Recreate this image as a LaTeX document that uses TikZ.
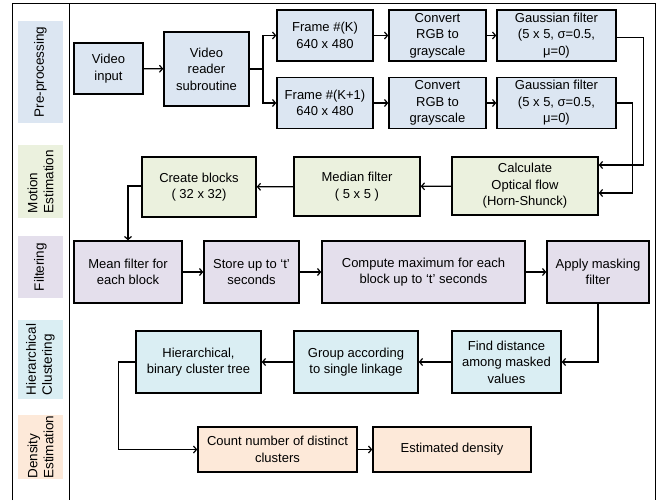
\documentclass[tikz,border=0pt]{standalone}
\usepackage{fontspec}
\setmainfont{Liberation Sans}
\usetikzlibrary{arrows.meta}
\definecolor{cblue}{RGB}{220,230,242}
\definecolor{cgreen}{RGB}{235,241,222}
\definecolor{cpurple}{RGB}{228,223,236}
\definecolor{ccyan}{RGB}{218,238,243}
\definecolor{cpeach}{RGB}{253,233,217}
\tikzset{
  box/.style={draw=black, line width=1.5pt, align=center, inner sep=1pt,
    font=\fontsize{13}{16.5}\selectfont},
  lbl/.style={rotate=90, align=left, inner sep=0pt,
    font=\fontsize{13.5}{16}\selectfont},
  conn/.style={line width=1.2pt, -{Straight Barb[length=3pt,width=7pt]}},
  plain/.style={line width=1.2pt},
  frame/.style={line width=1pt}
}
\begin{document}
\begin{tikzpicture}[x=1pt,y=-1pt]
\useasboundingbox (0,0) rectangle (668,500);
% frame
\draw[frame] (12,500) -- (12,4) -- (655,4) -- (655,500);
\draw[frame] (69,4) -- (69,500);
% side labels
\node[fill=cblue, minimum width=45pt, minimum height=102pt] (s1) at (40.5,72) {};
\node[lbl] at (s1) {Pre-processing};
\node[fill=cgreen, minimum width=45pt, minimum height=73pt] (s2) at (40.5,181.5) {};
\node[lbl] at (s2) {Motion\\Estimation};
\node[fill=cpurple, minimum width=45pt, minimum height=62pt] (s3) at (40.5,267) {};
\node[lbl] at (s3) {Filtering};
\node[fill=ccyan, minimum width=45pt, minimum height=79pt] (s4) at (40.5,359.5) {};
\node[lbl] at (s4) {Hierarchical\\Clustering};
\node[fill=cpeach, minimum width=45pt, minimum height=64pt] (s5) at (40.5,447) {};
\node[lbl] at (s5) {Density\\Estimation};
% pre-processing
\node[box, fill=cblue, minimum width=69pt, minimum height=51pt] (vin) at (108.5,68.5) {Video\\input};
\node[box, fill=cblue, minimum width=85pt, minimum height=74pt] (vread) at (206.5,69) {Video\\reader\\subroutine};
\node[box, fill=cblue, minimum width=96pt, minimum height=51pt] (fk) at (325,35.5) {Frame \#(K)\\640 x 480};
\node[box, fill=cblue, minimum width=96pt, minimum height=51pt] (fk1) at (325,103) {Frame \#(K+1)\\640 x 480};
\node[box, fill=cblue, minimum width=97pt, minimum height=51pt] (c1) at (437.5,35.5) {Convert\\RGB to\\grayscale};
\node[box, fill=cblue, minimum width=97pt, minimum height=51pt] (c2) at (437.5,103) {Convert\\RGB to\\grayscale};
\node[box, fill=cblue, minimum width=119pt, minimum height=51pt] (g1) at (556.5,35.5) {Gaussian filter\\(5 x 5, σ=0.5,\\μ=0)};
\node[box, fill=cblue, minimum width=119pt, minimum height=51pt] (g2) at (556.5,103) {Gaussian filter\\(5 x 5, σ=0.5,\\μ=0)};
% motion estimation
\node[box, fill=cgreen, minimum width=146pt, minimum height=58pt] (of) at (525,186) {Calculate\\Optical flow\\(Horn-Shunck)};
\node[box, fill=cgreen, minimum width=126pt, minimum height=59pt] (med) at (357,186.5) {Median filter\\( 5 x 5 )};
\node[box, fill=cgreen, minimum width=114pt, minimum height=60pt] (cb) at (199,187) {Create blocks\\( 32 x 32)};
% filtering
\node[box, fill=cpurple, minimum width=108pt, minimum height=62pt] (mean) at (128,272) {Mean filter for\\each block};
\node[box, fill=cpurple, minimum width=95pt, minimum height=62pt] (store) at (251.5,272) {Store up to ‘t’\\seconds};
\node[box, fill=cpurple, minimum width=203pt, minimum height=62pt] (cmax) at (423.5,272) {Compute maximum for each\\block up to ‘t’ seconds};
\node[box, fill=cpurple, minimum width=102pt, minimum height=62pt] (mask) at (598,272) {Apply masking\\filter};
% clustering
\node[box, fill=ccyan, minimum width=125pt, minimum height=62pt] (hier) at (198.5,362) {Hierarchical,\\binary cluster tree};
\node[box, fill=ccyan, minimum width=124pt, minimum height=62pt] (group) at (356,362) {Group according\\to single linkage};
\node[box, fill=ccyan, minimum width=109pt, minimum height=62pt] (find) at (506.5,362) {Find distance\\among masked\\values};
% density
\node[box, fill=cpeach, minimum width=159pt, minimum height=45pt] (count) at (277.5,449.5) {Count number of distinct\\clusters};
\node[box, fill=cpeach, minimum width=158pt, minimum height=45pt] (est) at (452,449.5) {Estimated density};
% coordinates
\coordinate (split) at (263,69);
% connectors
\draw[conn] (vin) -- (vread);
\draw[plain] (vread.east |- split) -- (split);
\draw[conn] (split) |- (fk.west);
\draw[conn] (split) |- (fk1.west);
\draw[conn] (fk) -- (c1);
\draw[conn] (c1) -- (g1);
\draw[conn] (fk1) -- (c2);
\draw[conn] (c2) -- (g2);
\draw[conn] ([yshift=-2pt]g1.east) -- ++(27,0) |- ([yshift=21pt]of.east);
\draw[conn] (g2.east) -- ++(16,0) |- ([yshift=-7pt]of.east);
\draw[conn] (of) -- (med);
\draw[conn] (med) -- (cb);
\draw[conn] ([yshift=1pt]cb.west) -| (mean.north);
\draw[conn] (mean) -- (store);
\draw[conn] (store) -- (cmax);
\draw[conn] (cmax) -- (mask);
\draw[conn] (mask.south) |- (find.east);
\draw[conn] (find) -- (group);
\draw[conn] (group) -- (hier);
\draw[conn] (hier.west) -- ++(-17,0) |- (count.west);
\draw[conn] (count) -- (est);
\end{tikzpicture}
\end{document}
